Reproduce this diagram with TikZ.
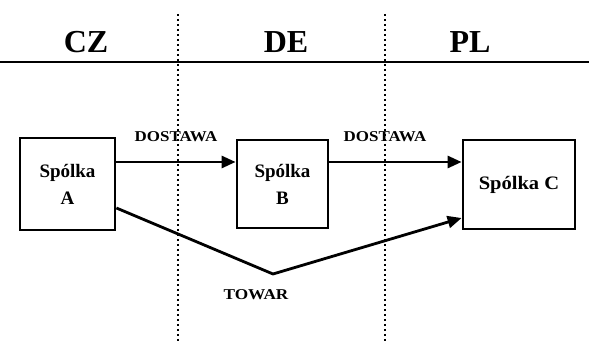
\documentclass[tikz,border=0pt]{standalone}
\usepackage{fontspec}
\setmainfont{Liberation Serif}
\usetikzlibrary{arrows.meta}
\begin{document}
\begin{tikzpicture}[x=1pt,y=-1pt,
  firm/.style={draw,line width=2.8pt,inner sep=0pt,font=\bfseries\fontsize{19}{22}\selectfont,align=center},
  flow/.style={line width=2.8pt,-{Triangle[length=14pt,width=12pt]}},
  lbl/.style={font=\bfseries\fontsize{15}{17}\selectfont},
  country/.style={font=\bfseries\fontsize{32}{34}\selectfont},
  border/.style={line width=1.8pt,dash pattern=on 1.8pt off 3.2pt}]
\useasboundingbox (0,0) rectangle (589,344);
% header
\node[country] (cz) at (86,42) {CZ};
\node[country] (de) at (286,42) {DE};
\node[country] (pl) at (470,42) {PL};
\coordinate (hl) at (0,62);
\coordinate (hr) at (589,62);
\draw[line width=2.8pt] (hl) -- (hr);
\coordinate (d1t) at (178,14);
\coordinate (d1b) at (178,344);
\coordinate (d2t) at (385,14);
\coordinate (d2b) at (385,344);
\draw[border] (d1t) -- (d1b);
\draw[border] (d2t) -- (d2b);
% boxes
\node[firm,minimum width=95pt,minimum height=92pt] (a) at (67.5,184) {Spólka\\[5pt]A};
\node[firm,minimum width=91pt,minimum height=88pt] (b) at (282.5,184) {Spólka\\[5pt]B};
\node[firm,minimum width=112pt,minimum height=89pt] (c) at (519,184.5) {\scalebox{1.08}[1]{Spólka C}};
% flows
\draw[flow] (a.east |- 0,162) -- (b.west |- 0,162);
\draw[flow] (b.east |- 0,162) -- (c.west |- 0,162);
\node[lbl] (l1) at (176,137) {\scalebox{1.13}[1]{DOSTAWA}};
\node[lbl] (l2) at (385,137) {\scalebox{1.13}[1]{DOSTAWA}};
\coordinate (v) at (273,274);
\draw[flow] (a.east |- 0,208) -- (v) -- (c.west |- 0,218);
\node[lbl] (l3) at (256,295) {\scalebox{1.15}[1]{TOWAR}};
\end{tikzpicture}
\end{document}
